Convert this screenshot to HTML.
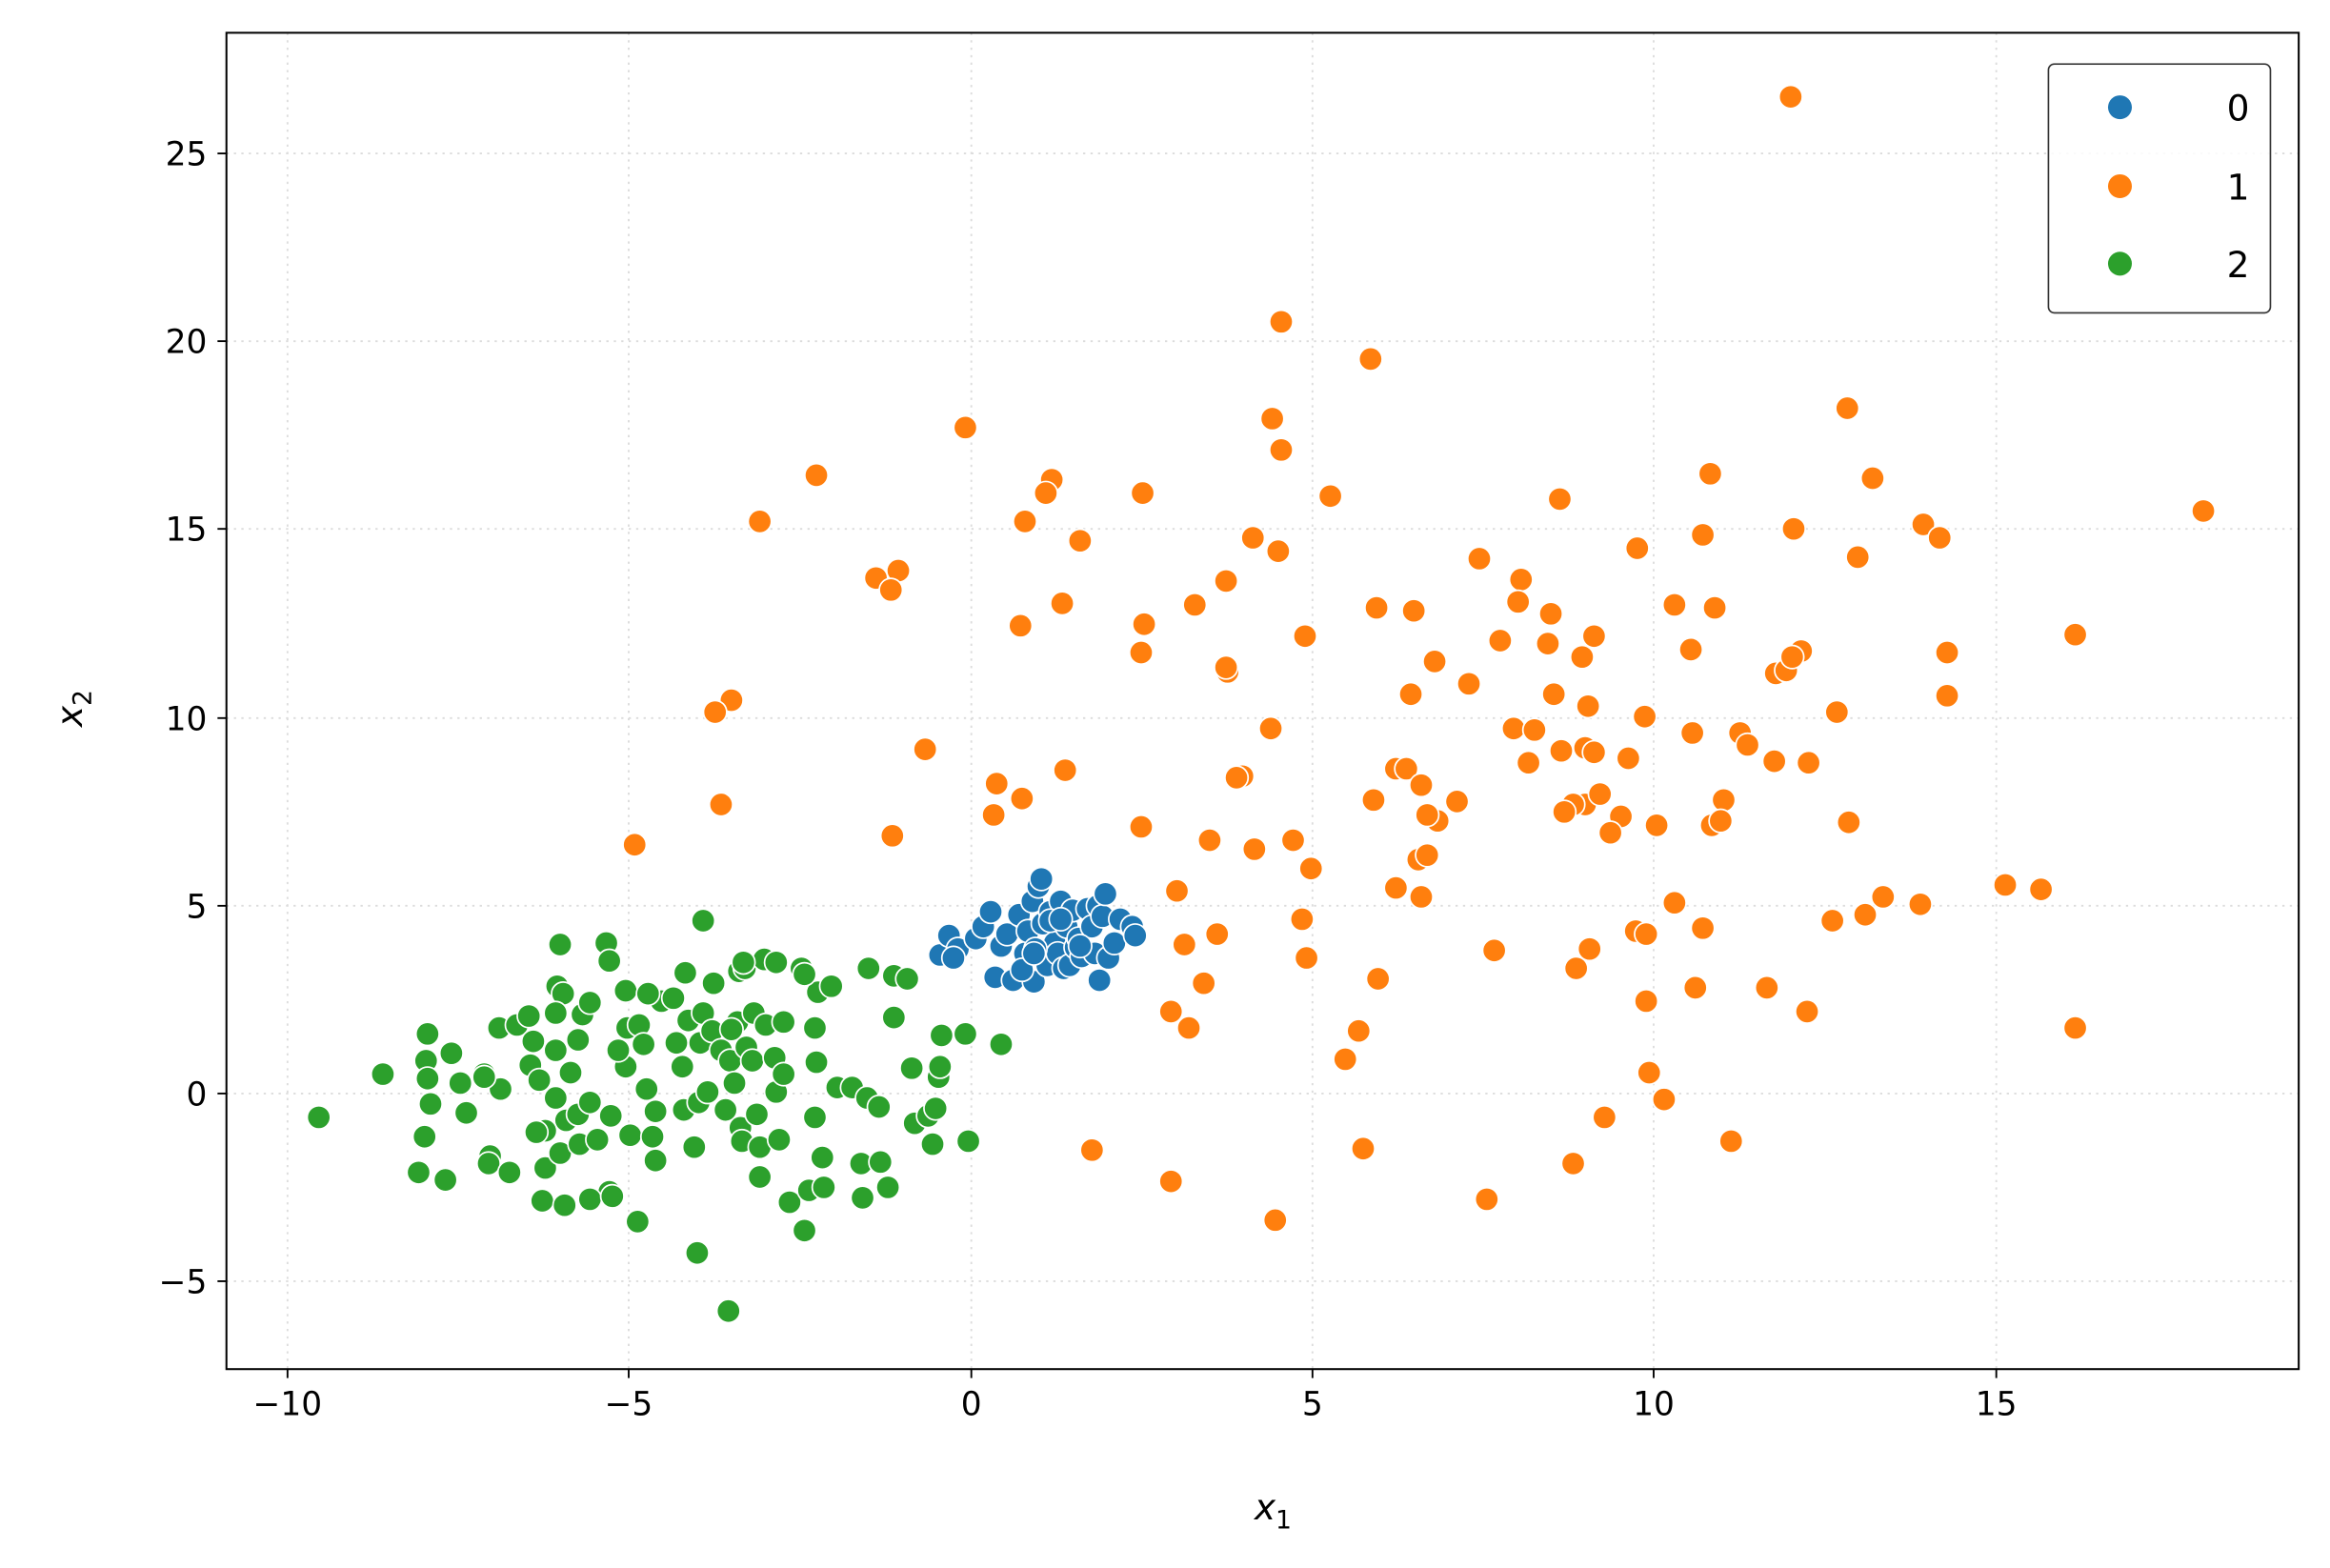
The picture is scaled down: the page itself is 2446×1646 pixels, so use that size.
<!DOCTYPE html>
<html><head><meta charset="utf-8"><style>
html,body{margin:0;padding:0;background:#fff}
svg{display:block}
text{font-family:"DejaVu Sans","Liberation Sans",sans-serif;fill:#000}
</style></head><body>
<svg id="s" width="2446" height="1646" viewBox="0 0 1564 1052.5" preserveAspectRatio="none" xmlns="http://www.w3.org/2000/svg">
<rect width="1564" height="1052.5" fill="#fff"/>
<g stroke="#dcdcdc" stroke-width="1.2" stroke-dasharray="1.5,3.5">
<line x1="193" y1="22" x2="193" y2="919"/><line x1="422" y1="22" x2="422" y2="919"/><line x1="652" y1="22" x2="652" y2="919"/><line x1="881" y1="22" x2="881" y2="919"/><line x1="1110" y1="22" x2="1110" y2="919"/><line x1="1340" y1="22" x2="1340" y2="919"/>
<line x1="152" y1="103" x2="1543" y2="103"/><line x1="152" y1="229" x2="1543" y2="229"/><line x1="152" y1="355" x2="1543" y2="355"/><line x1="152" y1="482" x2="1543" y2="482"/><line x1="152" y1="608" x2="1543" y2="608"/><line x1="152" y1="734" x2="1543" y2="734"/><line x1="152" y1="860" x2="1543" y2="860"/>
</g>
<g id="pts" stroke="#fff" stroke-width="1.1"></g>
<rect x="152" y="22" width="1391" height="897" fill="none" stroke="#000" stroke-width="1.3"/>
<g stroke="#000" stroke-width="1.2">
<line x1="193" y1="919" x2="193" y2="925"/><line x1="422" y1="919" x2="422" y2="925"/><line x1="652" y1="919" x2="652" y2="925"/><line x1="881" y1="919" x2="881" y2="925"/><line x1="1110" y1="919" x2="1110" y2="925"/><line x1="1340" y1="919" x2="1340" y2="925"/>
<line x1="146" y1="103" x2="152" y2="103"/><line x1="146" y1="229" x2="152" y2="229"/><line x1="146" y1="355" x2="152" y2="355"/><line x1="146" y1="482" x2="152" y2="482"/><line x1="146" y1="608" x2="152" y2="608"/><line x1="146" y1="734" x2="152" y2="734"/><line x1="146" y1="860" x2="152" y2="860"/>
</g>
<g font-size="22" text-anchor="middle">
<text x="193" y="950">−10</text><text x="422" y="950">−5</text><text x="652" y="950">0</text><text x="881" y="950">5</text><text x="1110" y="950">10</text><text x="1340" y="950">15</text>
</g>
<g font-size="22" text-anchor="end">
<text x="139" y="111">25</text><text x="139" y="237">20</text><text x="139" y="363">15</text><text x="139" y="490">10</text><text x="139" y="616">5</text><text x="139" y="742">0</text><text x="139" y="868">−5</text>
</g>
<text x="842" y="1020" font-size="24" font-style="italic">x<tspan font-size="17" dy="6" font-style="normal">1</tspan></text>
<text transform="translate(55,488) rotate(-90)" font-size="24" font-style="italic">x<tspan font-size="17" dy="6" font-style="normal">2</tspan></text>
<rect x="1375" y="43" width="149" height="167" rx="4" fill="#fff" fill-opacity="0.85" stroke="#ccc" stroke-width="1.2"/>
<rect x="1375" y="43" width="149" height="167" rx="4" fill="none" stroke="#333" stroke-width="1"/>
<circle cx="1423" cy="72" r="8" fill="#1f77b4"/><circle cx="1423" cy="125" r="8" fill="#ff7f0e"/><circle cx="1423" cy="177" r="8" fill="#2ca02c"/>
<g font-size="24" text-anchor="end"><text x="1510" y="81">0</text><text x="1510" y="134">1</text><text x="1510" y="186">2</text></g>
</svg>
<script>
var O=[[1202,65],[860,216],[920,241],[648,287],[1240,274],[854,281],[860,302],[548,319],[1148,318],[1257,321],[706,322],[702,331],[767,331],[893,333],[1047,335],[1479,343],[510,350],[688,350],[725,363],[841,361],[1099,368],[1143,359],[1204,355],[1291,352],[1302,361],[858,370],[993,375],[1247,374],[588,388],[603,383],[598,396],[823,390],[1021,389],[802,406],[713,405],[685,420],[768,419],[924,408],[949,410],[1124,406],[1151,408],[1041,412],[1070,427],[1019,404],[876,427],[1007,430],[1039,432],[1062,441],[766,438],[824,451],[823,448],[963,444],[1135,436],[1209,437],[1307,438],[1192,452],[1199,450],[491,470],[480,478],[947,466],[986,459],[1043,466],[1066,474],[1233,478],[853,489],[1016,489],[1104,481],[1030,490],[1136,492],[1168,492],[1173,500],[621,503],[1048,504],[1064,502],[1070,505],[1093,509],[1026,512],[1191,511],[1214,512],[669,526],[715,517],[834,521],[830,522],[937,516],[944,516],[954,527],[484,540],[922,537],[1064,540],[1074,533],[1056,540],[1050,545],[1157,537],[686,536],[667,547],[1088,548],[1112,554],[1149,554],[1155,551],[1241,552],[1081,559],[978,538],[965,551],[958,547],[766,555],[599,561],[426,567],[812,564],[842,570],[868,564],[952,577],[958,574],[880,583],[937,596],[954,602],[790,598],[1124,606],[1264,602],[1289,607],[1346,594],[1370,597],[1252,614],[1230,618],[874,617],[817,627],[795,634],[1003,638],[1067,637],[1098,625],[1105,627],[1143,623],[877,643],[808,660],[1058,650],[1138,663],[1186,663],[925,657],[1105,672],[786,679],[798,690],[912,692],[1213,679],[1393,690],[903,711],[1107,720],[1117,738],[1077,750],[915,771],[733,772],[1162,766],[1056,781],[998,805],[786,793],[856,819],[1393,426],[1307,467],[1203,441]];
var G=[[214,750],[257,721],[287,694],[303,707],[286,712],[287,724],[289,741],[285,763],[281,787],[299,792],[309,727],[313,747],[325,721],[329,776],[328,781],[342,787],[336,731],[335,690],[347,688],[355,682],[358,699],[356,715],[362,725],[373,705],[373,737],[374,662],[376,634],[378,667],[373,680],[380,752],[366,759],[366,784],[364,806],[376,774],[379,809],[389,768],[388,748],[383,720],[388,698],[391,681],[396,673],[407,633],[409,645],[396,740],[401,765],[410,749],[409,800],[396,805],[411,803],[420,665],[421,690],[420,716],[423,762],[429,688],[432,701],[434,731],[438,763],[440,779],[428,820],[444,672],[452,670],[454,700],[458,716],[459,745],[460,653],[462,685],[466,770],[468,841],[469,740],[472,618],[470,700],[472,680],[475,733],[478,692],[479,660],[484,705],[487,745],[490,712],[493,727],[497,757],[498,766],[495,686],[496,652],[489,880],[491,691],[500,650],[501,703],[505,712],[506,680],[508,748],[510,770],[510,790],[513,644],[514,688],[520,710],[521,733],[526,686],[526,721],[523,765],[530,807],[538,650],[540,826],[543,799],[549,666],[547,690],[548,713],[552,777],[553,797],[558,662],[547,750],[562,730],[572,730],[578,781],[579,804],[582,737],[591,780],[596,797],[590,743],[600,655],[600,683],[612,717],[614,754],[623,749],[628,744],[630,723],[626,768],[631,716],[632,695],[609,657],[650,766],[648,694],[672,701],[583,650],[540,654],[521,646],[499,646],[435,667],[415,705],[440,746],[325,723],[360,760]];
var B=[[631,641],[637,628],[643,637],[655,630],[660,622],[665,612],[668,656],[672,635],[676,627],[680,658],[684,614],[686,650],[688,640],[690,625],[693,605],[694,659],[697,595],[699,590],[700,620],[703,648],[705,612],[708,633],[710,640],[712,605],[714,650],[716,622],[718,648],[720,611],[722,636],[724,630],[726,642],[730,610],[733,622],[735,640],[737,608],[738,658],[740,615],[742,600],[744,643],[748,633],[752,617],[760,622],[762,628],[640,643],[695,637],[725,635],[705,618],[686,651],[712,617],[694,640]];
var g=document.getElementById('pts'),ns='http://www.w3.org/2000/svg';
function add(a,c){a.forEach(function(p){var e=document.createElementNS(ns,'circle');e.setAttribute('cx',p[0]);e.setAttribute('cy',p[1]);e.setAttribute('r',7.8);e.setAttribute('fill',c);g.appendChild(e);});}
add(O,'#ff7f0e');add(G,'#2ca02c');add(B,'#1f77b4');
</script>
</body></html>
